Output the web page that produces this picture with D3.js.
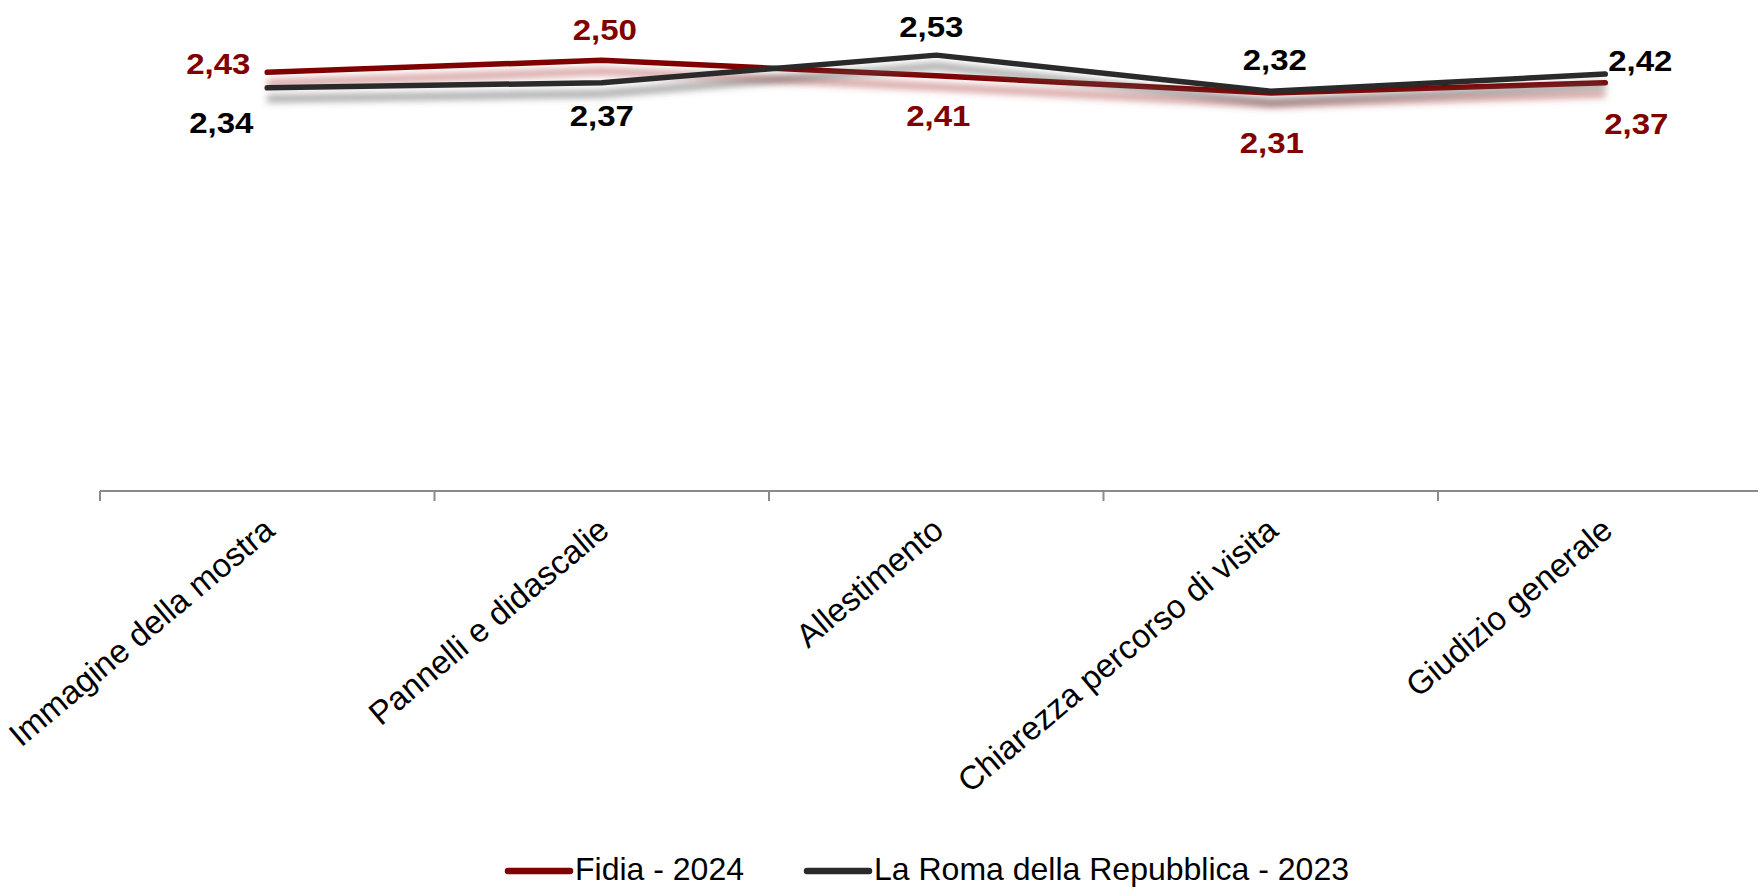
<!DOCTYPE html>
<html>
<head>
<meta charset="utf-8">
<script src="https://cdn.jsdelivr.net/npm/d3@7/dist/d3.min.js"></script>
<style>
  html, body { margin: 0; padding: 0; background: #fff; }
  svg { display: block; font-family: "Liberation Sans", Arial, Helvetica, sans-serif; }
</style>
</head>
<body>
<svg id="chart" width="1758" height="888"></svg>
<script>
// ---- data ----
const categories = ["Immagine della mostra", "Pannelli e didascalie", "Allestimento", "Chiarezza percorso di visita", "Giudizio generale"];
const seriesNames = ["Fidia - 2024", "La Roma della Repubblica - 2023"];
const fidia2024 = [2.43, 2.50, 2.41, 2.31, 2.37];
const roma2023 = [2.34, 2.37, 2.53, 2.32, 2.42];

// ---- layout / style (not data) ----
const colors = ["#800000", "#2a2a2a"];
const labelColors = ["#800000", "#000000"];
const shadowColors = ["#b04848", "#555555"];
// label offsets (dx, dy of the digit centre from the point), per series per category
const labelOffsets = [
  [[-49, -9], [3, -31], [2, 39], [1, 49], [31, 41]],
  [[-46, 34], [0, 33], [-5, -29], [4, -32], [35, -14]]
];

const svg = d3.select("#chart");
const x = d3.scaleBand().domain(categories).range([100, 100 + 5 * 334.5]);
const y = d3.scaleLinear().domain([0, 2.85]).range([491, 0]);

const allSeries = [fidia2024, roma2023];

// shadow filter
const defs = svg.append("defs");
defs.append("filter").attr("id", "blur").attr("x", "-10%").attr("y", "-100%").attr("width", "120%").attr("height", "300%")
  .append("feGaussianBlur").attr("stdDeviation", 3.5);

// x axis
const axis = d3.axisBottom(x).tickSize(10).tickSizeOuter(0).tickFormat("");
const gx = svg.append("g").attr("transform", "translate(0,491)").call(axis);
gx.select(".domain").attr("stroke", "#8a8a8a").attr("stroke-width", 2).attr("d", `M${x.range()[0]},0H1758`);
// ticks at band boundaries
gx.selectAll(".tick").remove();
const bounds = categories.map(c => x(c));
gx.selectAll("line.bt").data(bounds).enter().append("line")
  .attr("x1", d => d).attr("x2", d => d).attr("y1", 0).attr("y2", 10)
  .attr("stroke", "#8a8a8a").attr("stroke-width", 2);

// category labels
svg.append("g").selectAll("text").data(categories).enter().append("text")
  .attr("transform", d => `translate(${x(d) + x.bandwidth() / 2 - 6},${515}) rotate(-40)`)
  .attr("text-anchor", "end")
  .attr("dominant-baseline", "hanging")
  .attr("font-size", 33)
  .attr("fill", "#000")
  .text(d => d);

const line = d3.line().x((d, i) => x(categories[i]) + x.bandwidth() / 2).y(d => y(d));

allSeries.forEach((s, si) => {
  const g = svg.append("g");
  g.append("path").datum(s).attr("d", line)
    .attr("fill", "none").attr("stroke", shadowColors[si]).attr("stroke-width", 7)
    .attr("stroke-opacity", 0.55)
    .attr("transform", "translate(0,11)").attr("filter", "url(#blur)");
  g.append("path").datum(s).attr("d", line)
    .attr("fill", "none").attr("stroke", colors[si]).attr("stroke-width", 5.5)
    .attr("stroke-linecap", "round").attr("stroke-linejoin", "round");
});

allSeries.forEach((s, si) => {
  svg.append("g").selectAll("text").data(s).enter().append("text")
    .attr("transform", (d, i) => {
      const tx = x(categories[i]) + x.bandwidth() / 2 + labelOffsets[si][i][0];
      const ty = y(d) + labelOffsets[si][i][1] + 0.36 * 30;
      return `translate(${tx},${ty}) scale(1.1,1)`;
    })
    .attr("text-anchor", "middle")
    .attr("font-size", 30).attr("font-weight", "bold")
    .attr("fill", labelColors[si])
    .text(d => d3.format(".2f")(d).replace(".", ","));
});

// legend
const legendItems = [
  { name: seriesNames[0], color: colors[0], x: 508 },
  { name: seriesNames[1], color: colors[1], x: 807 }
];
const lg = svg.append("g");
legendItems.forEach(it => {
  lg.append("line").attr("x1", it.x).attr("x2", it.x + 62).attr("y1", 871).attr("y2", 871)
    .attr("stroke", it.color).attr("stroke-width", 6.5).attr("stroke-linecap", "round");
  lg.append("text").attr("x", it.x + 67).attr("y", 880)
    .attr("font-size", 32).attr("fill", "#000").text(it.name);
});
</script>
</body>
</html>
